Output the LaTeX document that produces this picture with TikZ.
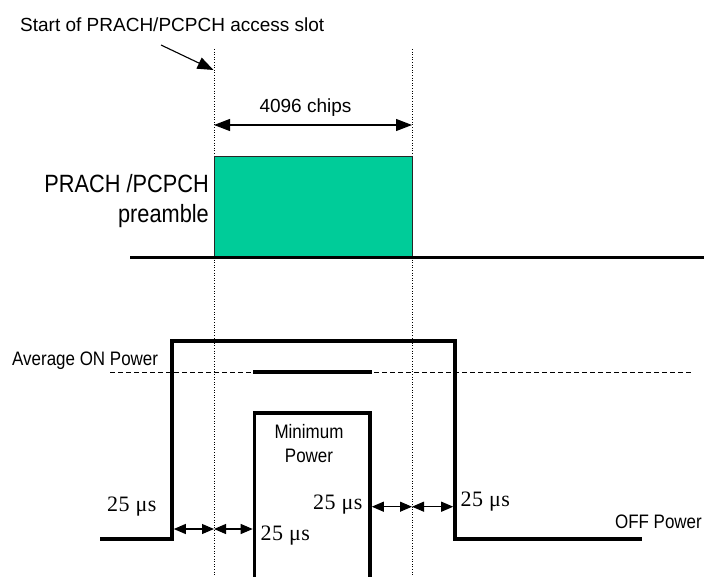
\documentclass[tikz,border=0pt]{standalone}
\usepackage{fontspec}
\setmainfont{Liberation Sans}
\newfontfamily\narrowfont[FakeStretch=0.87]{Liberation Sans}
\newfontfamily\tmsfont[LetterSpace=2]{Liberation Serif}
\usetikzlibrary{arrows.meta}
\definecolor{pregreen}{RGB}{0,204,153}
\begin{document}
\begin{tikzpicture}[x=1pt,y=-1pt,
  lbl/.style={inner sep=0pt,font=\fontsize{19}{22}\selectfont},
  nlbl/.style={inner sep=0pt,font=\narrowfont\fontsize{19.5}{22}\selectfont},
  biglbl/.style={inner sep=0pt,font=\narrowfont\fontsize{25}{28}\selectfont},
  uslbl/.style={inner sep=0pt,font=\tmsfont\fontsize{22}{25}\selectfont},
  guide/.style={line width=0.7pt,dash pattern=on 1pt off 1.6pt},
  powerline/.style={line width=3.6pt,line join=miter,line cap=butt},
  baseline/.style={line width=3.2pt},
  avgdash/.style={line width=1pt,dash pattern=on 5pt off 3pt},
  dimbig/.style={line width=1.1pt,{Triangle[length=16pt,width=12pt]}-{Triangle[length=16pt,width=12pt]}},
  dimsmall/.style={line width=1.1pt,{Triangle[length=12pt,width=10pt]}-{Triangle[length=12pt,width=10pt]}},
  pointer/.style={line width=1.1pt,-{Triangle[length=16pt,width=12pt]}},
  prebox/.style={draw=black!85,line width=0.9pt,fill=pregreen,inner sep=0pt,
    minimum width=198pt,minimum height=100pt}]
\useasboundingbox (0,0) rectangle (704,576);
\clip (0,0) rectangle (704,576);

% guide lines
\coordinate (gL0) at (214,49); \coordinate (gL1) at (214,576);
\coordinate (gR0) at (412,49); \coordinate (gR1) at (412,576);
\draw[guide] (gL0) -- (gL1);
\draw[guide] (gR0) -- (gR1);

% top label and pointer
\node[lbl,anchor=base west] (start) at (20,31.5) {Start of PRACH/PCPCH access slot};
\coordinate (pa) at (161,45); \coordinate (pb) at (213.5,70);
\draw[pointer] (pa) -- (pb);

% chips dimension
\node[lbl,anchor=base] (chips) at (305.5,112) {4096 chips};
\coordinate (cA) at (214,125); \coordinate (cB) at (412,125);
\draw[dimbig] (cA) -- (cB);

% preamble box
\node[prebox,anchor=north west] (pre) at (214,156) {};
\coordinate (b0) at (130,257.5); \coordinate (b1) at (704,257.5);
\draw[baseline] (b0) -- (b1);
\node[biglbl,anchor=base east] (prl1) at (209,192) {PRACH /PCPCH};
\node[biglbl,anchor=base east] (prl2) at (209,222) {preamble};

% average power
\coordinate (d0) at (110,372); \coordinate (d1) at (692,372);
\draw[avgdash] (d0) -- (d1);
\coordinate (s0) at (253,372); \coordinate (s1) at (372,372);
\draw[powerline] (s0) -- (s1);
\node[nlbl,anchor=base west] (avg) at (12,365.5) {Average ON Power};

% ON power envelope
\coordinate (e0) at (100,539); \coordinate (e1) at (172,539);
\coordinate (e2) at (172,341); \coordinate (e3) at (455,341);
\coordinate (e4) at (455,539); \coordinate (e5) at (642,539);
\draw[powerline] (e0) -- (e1) -- (e2) -- (e3) -- (e4) -- (e5);
\node[nlbl,anchor=base east] (off) at (702,528.3) {OFF Power};

% minimum power box
\coordinate (m0) at (254.5,580); \coordinate (m1) at (254.5,413);
\coordinate (m2) at (370,413); \coordinate (m3) at (370,580);
\draw[powerline] (m0) -- (m1) -- (m2) -- (m3);
\node[nlbl,anchor=base] (min1) at (309,438) {Minimum};
\node[nlbl,anchor=base] (min2) at (309,462.7) {Power};

% 25 us dimensions
\coordinate (la) at (173.8,529); \coordinate (lb) at (214,529); \coordinate (lc) at (252.7,529);
\draw[dimsmall] (la) -- (lb);
\draw[dimsmall] (lb) -- (lc);
\coordinate (ra) at (371.8,506.7); \coordinate (rb) at (412,506.7); \coordinate (rc) at (453.2,506.7);
\draw[dimsmall] (ra) -- (rb);
\draw[dimsmall] (rb) -- (rc);

\node[uslbl,anchor=base west] (us1) at (107,511) {25 μs};
\node[uslbl,anchor=base west] (us2) at (260.5,540) {25 μs};
\node[uslbl,anchor=base west] (us3) at (313,509) {25 μs};
\node[uslbl,anchor=base west] (us4) at (460.5,506.7) {25 μs};
\end{tikzpicture}
\end{document}
